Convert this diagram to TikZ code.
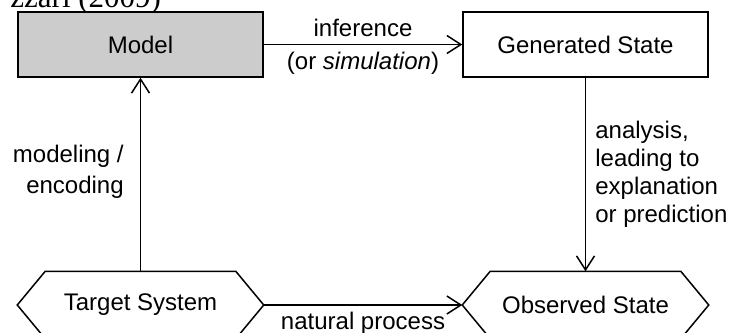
\documentclass[tikz,border=0pt]{standalone}
\usepackage{fontspec}
\setmainfont{Liberation Sans}
\newfontfamily\capfont{Liberation Serif}
\usetikzlibrary{arrows.meta,calc}
\definecolor{modelgray}{HTML}{CCCCCC}
\begin{document}
\begin{tikzpicture}[x=0.5pt,y=-0.5pt,
  font=\fontsize{12}{14}\selectfont,
  line width=0.75pt,
  box/.style={draw, minimum width=122.5pt, minimum height=32.5pt, inner sep=0pt},
  hexbase/.style={minimum width=122.5pt, minimum height=33pt, inner sep=0pt},
  flow/.style={-{Straight Barb[length=7pt,width=9pt]}}]
\useasboundingbox (0,0) rectangle (732,332);
\clip (0,0) rectangle (732,332);

% citation line above the figure
\node[anchor=base west, font=\capfont\fontsize{15.5}{18}\selectfont] (cite) at (3,7) {zzari (2009)};

% boxes
\node[box, fill=modelgray] (model) at (140.5,44.5) {Model};
\node[box] (gen) at (585.5,44.5) {Generated State};

% hexagonal states
\node[hexbase] (target) at (140.5,305) {Target System};
\node[hexbase] (obs) at (585.5,305) {Observed State};
\foreach \n in {target,obs}
  \draw (\n.west) -- ($(\n.north west)+(28,0)$) -- ($(\n.north east)+(-28,0)$)
        -- (\n.east) -- ($(\n.south east)+(-28,0)$) -- ($(\n.south west)+(28,0)$) -- cycle;

% connectors
\draw[flow] (model) -- node[above] (inf) {inference}
                       node[below] (sim) {(or \textit{simulation})} (gen);
\draw[flow] (gen.south) -- node[right=1.2pt, align=left] (ana)
  {analysis,\\leading to\\explanation\\or prediction} (obs.north);
\draw[flow] (target.north) -- node[left=4.7pt, yshift=1.5pt, align=right,
  font=\fontsize{12}{15.5}\selectfont] (enc)
  {modeling /\\encoding} (model.south);
\draw[flow] (target.east) -- node[below] (nat) {natural process} (obs.west);
\end{tikzpicture}
\end{document}
